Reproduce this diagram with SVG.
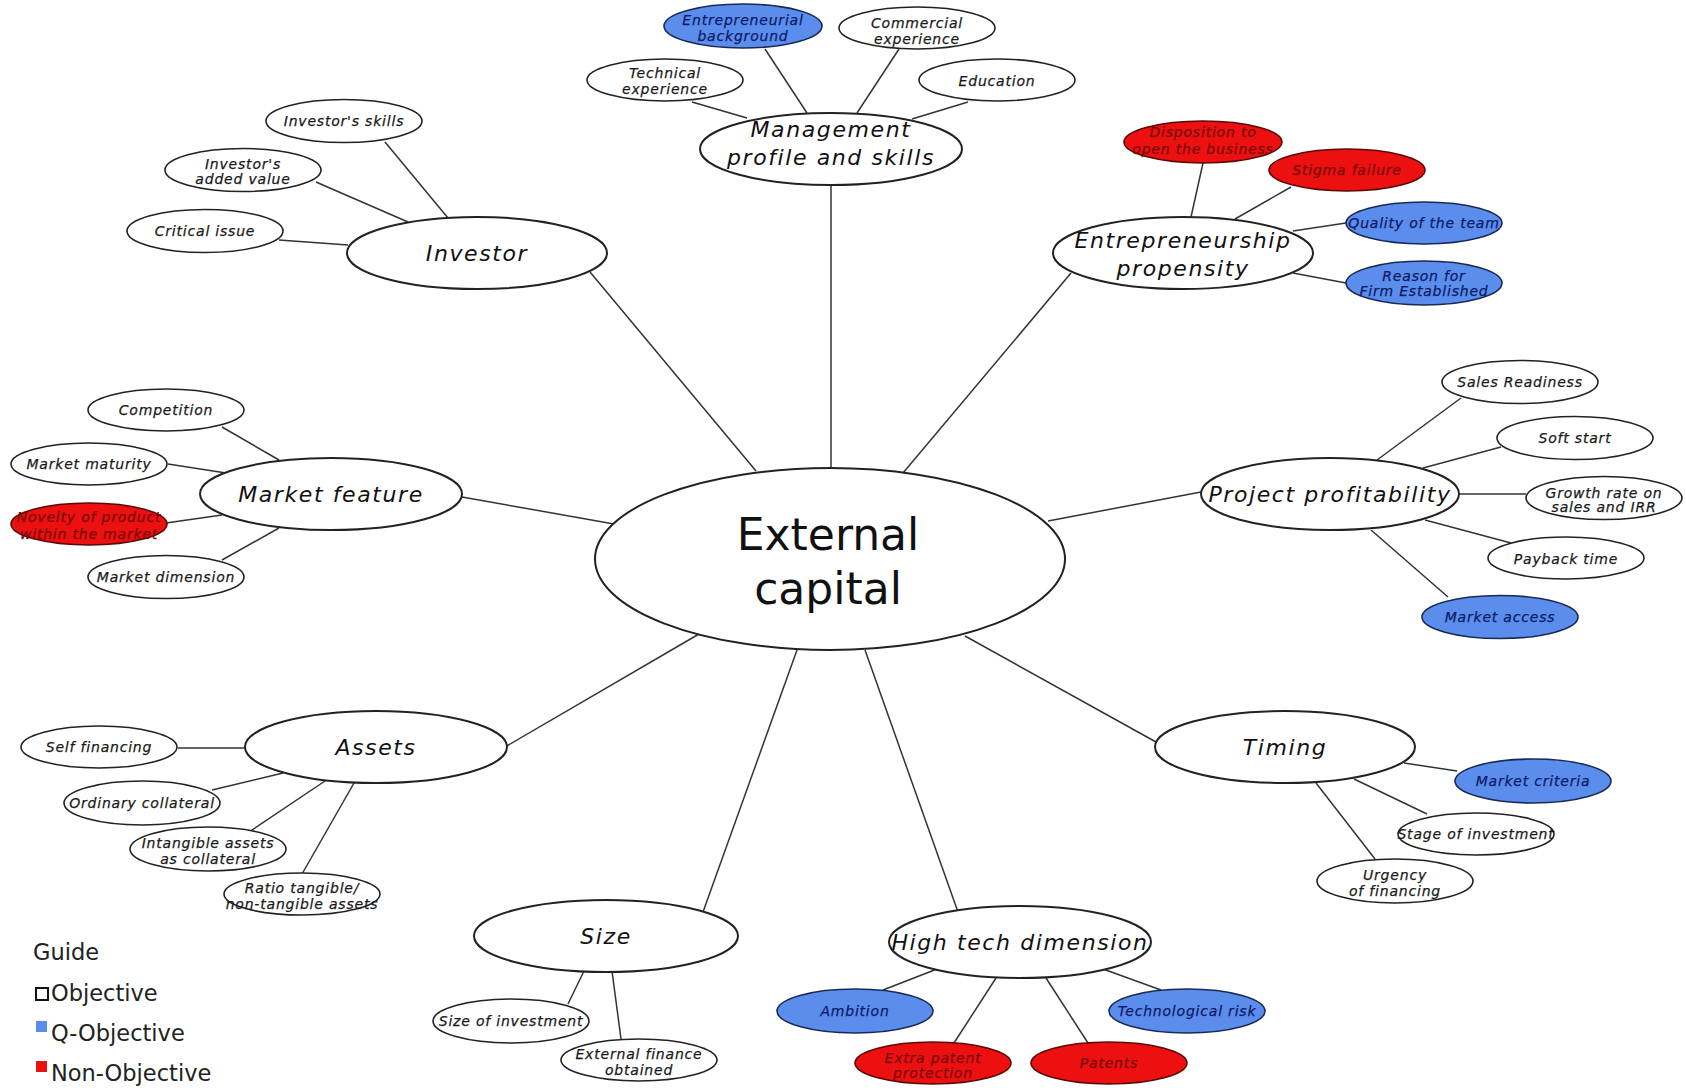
<svg xmlns="http://www.w3.org/2000/svg" width="1686" height="1091" viewBox="0 0 1686 1091">
<style>
.bg{fill:#ffffff}
.c line{stroke:#333333;stroke-width:1.5}
.main{fill:#ffffff;stroke:#222222;stroke-width:2}
.sub{fill:#ffffff;stroke:#222222;stroke-width:1.6}
.q{fill:#5b8ded;stroke:#1a2a55;stroke-width:1.6}
.n{fill:#ec1010;stroke:#5a0a0a;stroke-width:1.6}
.t{font-family:"DejaVu Sans","Verdana",sans-serif;font-style:italic;text-anchor:middle}
.tm{font-size:22px;letter-spacing:1.6px;fill:#111111}
.ts{font-size:14px;letter-spacing:0.8px;fill:#1a1a1a;stroke:#1a1a1a;stroke-width:0.25}
.tq{fill:#0d1a66;stroke:#0d1a66}
.tn{fill:#7a0808;stroke:#7a0808}
.big{font-family:"DejaVu Sans","Verdana",sans-serif;font-size:44px;text-anchor:middle;fill:#111111}
.leg{font-family:"DejaVu Sans","Verdana",sans-serif;font-size:22.5px;fill:#222222}
</style>
<rect class="bg" x="0" y="0" width="1686" height="1091"/>
<g id="connectors" class="c">
<line x1="590" y1="272" x2="756" y2="471"/>
<line x1="831" y1="185" x2="831" y2="468"/>
<line x1="1071" y1="273" x2="903" y2="473"/>
<line x1="462" y1="497" x2="614" y2="524"/>
<line x1="1201" y1="492" x2="1048" y2="521"/>
<line x1="505" y1="747" x2="699" y2="634"/>
<line x1="1156" y1="742" x2="965" y2="636"/>
<line x1="797" y1="650" x2="703" y2="912"/>
<line x1="865" y1="650" x2="958" y2="912"/>
<line x1="448" y1="218" x2="385" y2="142"/>
<line x1="408" y1="222" x2="316" y2="182"/>
<line x1="348" y1="245" x2="279" y2="240"/>
<line x1="692" y1="102" x2="747" y2="118"/>
<line x1="765" y1="49" x2="807" y2="113"/>
<line x1="899" y1="49" x2="857" y2="113"/>
<line x1="968" y1="102" x2="912" y2="119"/>
<line x1="1203" y1="163" x2="1191" y2="217"/>
<line x1="1291" y1="187" x2="1235" y2="219"/>
<line x1="1346" y1="223" x2="1293" y2="231"/>
<line x1="1346" y1="283" x2="1293" y2="273"/>
<line x1="1461" y1="398" x2="1377" y2="460"/>
<line x1="1501" y1="447" x2="1423" y2="468"/>
<line x1="1459" y1="494" x2="1526" y2="494"/>
<line x1="1425" y1="520" x2="1511" y2="543"/>
<line x1="1371" y1="530" x2="1448" y2="597"/>
<line x1="1404" y1="763" x2="1457" y2="771"/>
<line x1="1354" y1="779" x2="1427" y2="814"/>
<line x1="1316" y1="783" x2="1375" y2="859"/>
<line x1="937" y1="969" x2="883" y2="990"/>
<line x1="996" y1="978" x2="954" y2="1043"/>
<line x1="1046" y1="978" x2="1088" y2="1043"/>
<line x1="1103" y1="969" x2="1161" y2="990"/>
<line x1="584" y1="971" x2="568" y2="1004"/>
<line x1="612" y1="971" x2="621" y2="1039"/>
<line x1="178" y1="748" x2="245" y2="748"/>
<line x1="212" y1="790" x2="283" y2="773"/>
<line x1="249" y1="832" x2="325" y2="781"/>
<line x1="302" y1="874" x2="354" y2="783"/>
<line x1="222" y1="427" x2="279" y2="460"/>
<line x1="168" y1="464" x2="226" y2="473"/>
<line x1="166" y1="523" x2="222" y2="515"/>
<line x1="222" y1="560" x2="279" y2="528"/>
</g>

<g id="external-capital"><ellipse class="main" cx="830" cy="559" rx="235" ry="91"/><text class="big" x="828" y="550">External</text><text class="big" x="828" y="604">capital</text></g>

<g id="management"><ellipse class="main" cx="831" cy="149" rx="131" ry="36"/><text class="t tm" x="831" y="137">Management</text><text class="t tm" x="831" y="165">profile and skills</text></g>
<g id="investor"><ellipse class="main" cx="477" cy="253" rx="130" ry="36"/><text class="t tm" x="477" y="261">Investor</text></g>
<g id="entrepreneurship"><ellipse class="main" cx="1183" cy="253" rx="130" ry="36"/><text class="t tm" x="1183" y="248">Entrepreneurship</text><text class="t tm" x="1183" y="276">propensity</text></g>
<g id="market-feature"><ellipse class="main" cx="331" cy="494" rx="131" ry="36"/><text class="t tm" x="331" y="502">Market feature</text></g>
<g id="project-profitability"><ellipse class="main" cx="1330" cy="494" rx="129" ry="36"/><text class="t tm" x="1330" y="502">Project profitability</text></g>
<g id="assets"><ellipse class="main" cx="376" cy="747" rx="131" ry="36"/><text class="t tm" x="376" y="755">Assets</text></g>
<g id="timing"><ellipse class="main" cx="1285" cy="747" rx="130" ry="36"/><text class="t tm" x="1285" y="755">Timing</text></g>
<g id="size"><ellipse class="main" cx="606" cy="936" rx="132" ry="36"/><text class="t tm" x="606" y="944">Size</text></g>
<g id="high-tech"><ellipse class="main" cx="1020" cy="942" rx="131" ry="36"/><text class="t tm" x="1020" y="950">High tech dimension</text></g>

<g id="investors-skills"><ellipse class="sub" cx="344" cy="121" rx="78" ry="21.5"/><text class="t ts" x="344" y="126">Investor's skills</text></g>
<g id="investors-added-value"><ellipse class="sub" cx="243" cy="170" rx="78" ry="21.5"/><text class="t ts" x="243" y="169">Investor's</text><text class="t ts" x="243" y="184">added value</text></g>
<g id="critical-issue"><ellipse class="sub" cx="205" cy="231" rx="78" ry="21.5"/><text class="t ts" x="205" y="236">Critical issue</text></g>

<g id="entrepreneurial-background"><ellipse class="q" cx="743" cy="26" rx="79" ry="22"/><text class="t ts tq" x="743" y="25">Entrepreneurial</text><text class="t ts tq" x="743" y="41">background</text></g>
<g id="commercial-experience"><ellipse class="sub" cx="917" cy="28" rx="78" ry="21"/><text class="t ts" x="917" y="28">Commercial</text><text class="t ts" x="917" y="44">experience</text></g>
<g id="technical-experience"><ellipse class="sub" cx="665" cy="80" rx="78" ry="21"/><text class="t ts" x="665" y="78">Technical</text><text class="t ts" x="665" y="94">experience</text></g>
<g id="education"><ellipse class="sub" cx="997" cy="80" rx="78" ry="21"/><text class="t ts" x="997" y="86">Education</text></g>

<g id="disposition"><ellipse class="n" cx="1203" cy="142" rx="79" ry="21"/><text class="t ts tn" x="1203" y="137">Disposition to</text><text class="t ts tn" x="1203" y="154">open the business</text></g>
<g id="stigma-failure"><ellipse class="n" cx="1347" cy="170" rx="78" ry="21"/><text class="t ts tn" x="1347" y="175">Stigma failure</text></g>
<g id="quality-team"><ellipse class="q" cx="1424" cy="223" rx="78" ry="21"/><text class="t ts tq" x="1424" y="228">Quality of the team</text></g>
<g id="reason-firm"><ellipse class="q" cx="1424" cy="283" rx="78" ry="22"/><text class="t ts tq" x="1424" y="281">Reason for</text><text class="t ts tq" x="1424" y="296">Firm Established</text></g>

<g id="sales-readiness"><ellipse class="sub" cx="1520" cy="382" rx="78" ry="21.5"/><text class="t ts" x="1520" y="387">Sales Readiness</text></g>
<g id="soft-start"><ellipse class="sub" cx="1575" cy="438" rx="78" ry="21.5"/><text class="t ts" x="1575" y="443">Soft start</text></g>
<g id="growth-rate"><ellipse class="sub" cx="1604" cy="498" rx="78" ry="21.5"/><text class="t ts" x="1604" y="498">Growth rate on</text><text class="t ts" x="1604" y="512">sales and IRR</text></g>
<g id="payback-time"><ellipse class="sub" cx="1566" cy="558" rx="78" ry="21"/><text class="t ts" x="1566" y="564">Payback time</text></g>
<g id="market-access"><ellipse class="q" cx="1500" cy="617" rx="78" ry="21.5"/><text class="t ts tq" x="1500" y="622">Market access</text></g>

<g id="market-criteria"><ellipse class="q" cx="1533" cy="781" rx="78" ry="22"/><text class="t ts tq" x="1533" y="786">Market criteria</text></g>
<g id="stage-investment"><ellipse class="sub" cx="1476" cy="834" rx="78" ry="21"/><text class="t ts" x="1476" y="839">Stage of investment</text></g>
<g id="urgency-financing"><ellipse class="sub" cx="1395" cy="881" rx="78" ry="22"/><text class="t ts" x="1395" y="880">Urgency</text><text class="t ts" x="1395" y="896">of financing</text></g>

<g id="ambition"><ellipse class="q" cx="855" cy="1011" rx="78" ry="22"/><text class="t ts tq" x="855" y="1016">Ambition</text></g>
<g id="extra-patent"><ellipse class="n" cx="933" cy="1063" rx="78" ry="21"/><text class="t ts tn" x="933" y="1063">Extra patent</text><text class="t ts tn" x="933" y="1078">protection</text></g>
<g id="patents"><ellipse class="n" cx="1109" cy="1063" rx="78" ry="21"/><text class="t ts tn" x="1109" y="1068">Patents</text></g>
<g id="technological-risk"><ellipse class="q" cx="1187" cy="1011" rx="78" ry="22"/><text class="t ts tq" x="1187" y="1016">Technological risk</text></g>

<g id="size-investment"><ellipse class="sub" cx="511" cy="1021" rx="78" ry="22"/><text class="t ts" x="511" y="1026">Size of investment</text></g>
<g id="external-finance"><ellipse class="sub" cx="639" cy="1060" rx="78" ry="21"/><text class="t ts" x="639" y="1059">External finance</text><text class="t ts" x="639" y="1075">obtained</text></g>

<g id="self-financing"><ellipse class="sub" cx="99" cy="747" rx="78" ry="21"/><text class="t ts" x="99" y="752">Self financing</text></g>
<g id="ordinary-collateral"><ellipse class="sub" cx="142" cy="803" rx="78" ry="22"/><text class="t ts" x="142" y="808">Ordinary collateral</text></g>
<g id="intangible-assets"><ellipse class="sub" cx="208" cy="849" rx="78" ry="22"/><text class="t ts" x="208" y="848">Intangible assets</text><text class="t ts" x="208" y="864">as collateral</text></g>
<g id="ratio-tangible"><ellipse class="sub" cx="302" cy="894" rx="78" ry="21"/><text class="t ts" x="302" y="893">Ratio tangible/</text><text class="t ts" x="302" y="909">non-tangible assets</text></g>

<g id="competition"><ellipse class="sub" cx="166" cy="410" rx="78" ry="21"/><text class="t ts" x="166" y="415">Competition</text></g>
<g id="market-maturity"><ellipse class="sub" cx="89" cy="464" rx="78" ry="21"/><text class="t ts" x="89" y="469">Market maturity</text></g>
<g id="novelty"><ellipse class="n" cx="89" cy="524" rx="78" ry="21"/><text class="t ts tn" x="89" y="522">Novelty of product</text><text class="t ts tn" x="89" y="539">within the market</text></g>
<g id="market-dimension"><ellipse class="sub" cx="166" cy="577" rx="78" ry="21.5"/><text class="t ts" x="166" y="582">Market dimension</text></g>

<g id="legend">
<text class="leg" x="33" y="960">Guide</text>
<rect x="36" y="988" width="12" height="12" fill="#ffffff" stroke="#111111" stroke-width="2"/>
<text class="leg" x="51" y="1001">Objective</text>
<rect x="36" y="1021" width="11" height="11" fill="#5b8ded"/>
<text class="leg" x="51" y="1041">Q-Objective</text>
<rect x="36" y="1061" width="11" height="11" fill="#ec1010"/>
<text class="leg" x="51" y="1081">Non-Objective</text>
</g>
</svg>
